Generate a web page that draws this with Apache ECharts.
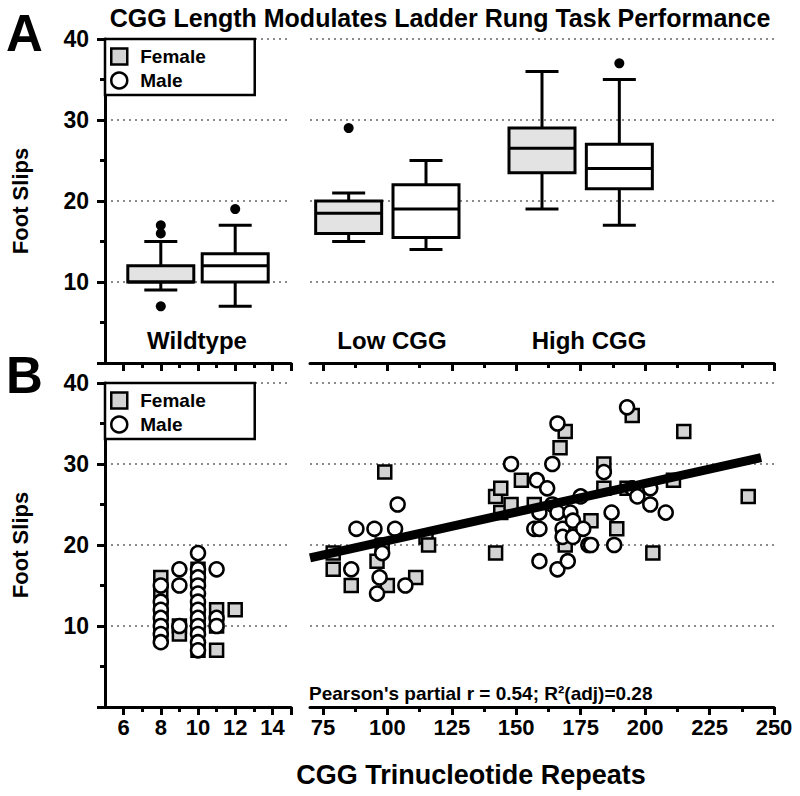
<!DOCTYPE html>
<html><head><meta charset="utf-8">
<script src="https://cdn.jsdelivr.net/npm/echarts@6/dist/echarts.min.js"></script>
<style>html,body{margin:0;padding:0;background:#fff}#c{width:800px;height:796px}</style>
</head><body><div id="c"></div>
<script>
// ---------- data ----------
const groups = ['Wildtype', 'Low CGG', 'High CGG'];
// box stats per group: [x, min, q1, median, q3, max]
const femaleBoxes = [[8, 9, 10, 10, 12, 15], [85, 15, 16, 18.5, 20, 21], [160, 19, 23.5, 26.5, 29, 36]];
const maleBoxes   = [[12, 7, 10, 12, 13.5, 17], [115, 14, 15.5, 19, 22, 25], [190, 17, 21.5, 24, 27, 35]];
const boxOutliers = [[8, 17], [8, 16], [8, 7], [12, 19], [85, 29], [190, 37]];

const femaleWT = [[8,16],[8,14],[8,12],[8,11],[8,9],[9,10],[9,9],[10,17],[10,16],[10,12],[10,10],[10,7],[11,12],[11,10],[11,7],[12,12]];
const maleWT = [[8,15],[8,13],[8,12],[8,11],[8,10],[8,9],[8,8],[9,17],[9,15],[9,10],[10,19],[10,17],[10,16],[10,15],[10,14],[10,13],[10,12],[10,11],[10,10],[10,9],[10,8],[10,7],[11,17],[11,11],[11,10]];
const femalePM = [[79,19],[79,17],[86,15],[96,18],[98,20],[99,29],[100,15],[111,16],[115,21],[116,20],
  [142,26],[142,19],[144,27],[144,24],[148,25],[152,28],[157,25],[167,32],[169,34],[169,20],[179,23],[184,30],[184,27],[189,22],[193,27],[195,36],[203,19],[211,28],[215,34],[240,26]];
const malePM = [[86,17],[88,22],[95,22],[97,16],[98,19],[103,22],[104,25],[96,14],[107,15],
  [148,30],[157,22],[158,28],[159,24],[159,22],[159,18],[162,27],[164,30],[164,25],[166,35],[166,24],[166,17],[168,22],[168,21],[170,18],[171,24],[172,23],[172,21],[175,26],[176,22],[178,20],[179,20],[184,29],[187,24],[188,20],[193,37],[195,27],[197,26],[202,27],[202,25],[208,24]];
const fitX = [70, 245];
const fitY = [18.4, 30.8];

const yTicks = [10, 20, 30, 40];
const leftMajor = [6, 8, 10, 12, 14, 15];
const leftLabels = [6, 8, 10, 12, 14];
const leftMinor = [7, 9, 11, 13];
const rightMajor = [75, 100, 125, 150, 175, 200, 225, 250];
const rightMinor = [87.5, 112.5, 137.5, 162.5, 187.5, 212.5, 237.5];

const titleText = 'CGG Length Modulates Ladder Rung Task Performance';
const statText = "Pearson's partial r = 0.54; R\u00B2(adj)=0.28";
const xName = 'CGG Trinucleotide Repeats';
const yName = 'Foot Slips';

// ---------- style ----------
const FONT = '"Liberation Sans", Arial, Helvetica, sans-serif';
const BOX_W = 66, CAP_W = 33, LW = 3;
const GL = {left: 105, width: 186}, GR = {left: 310, width: 464};
const GA = {top: 39, height: 324}, GB = {top: 383, height: 324};

function boxRender(fill) {
  return function (params, api) {
    const x = api.value(0);
    const pMin = api.coord([x, api.value(1)]), pQ1 = api.coord([x, api.value(2)]),
          pMed = api.coord([x, api.value(3)]), pQ3 = api.coord([x, api.value(4)]),
          pMax = api.coord([x, api.value(5)]);
    const cx = pMed[0], hw = BOX_W / 2, cw = CAP_W / 2;
    const ls = {stroke: '#000', lineWidth: LW};
    return {type: 'group', children: [
      {type: 'line', shape: {x1: cx, y1: pMin[1], x2: cx, y2: pQ1[1]}, style: ls},
      {type: 'line', shape: {x1: cx, y1: pQ3[1], x2: cx, y2: pMax[1]}, style: ls},
      {type: 'line', shape: {x1: cx - cw, y1: pMin[1], x2: cx + cw, y2: pMin[1]}, style: ls},
      {type: 'line', shape: {x1: cx - cw, y1: pMax[1], x2: cx + cw, y2: pMax[1]}, style: ls},
      {type: 'rect', shape: {x: cx - hw, y: pQ3[1], width: BOX_W, height: pQ1[1] - pQ3[1]}, style: {fill: fill, stroke: '#000', lineWidth: LW}},
      {type: 'line', shape: {x1: cx - hw, y1: pMed[1], x2: cx + hw, y2: pMed[1]}, style: ls}
    ]};
  };
}

function xAxesFor(gi, min, max, major, labels, minor, showLabels) {
  return [
    {type: 'value', gridIndex: gi, min: min, max: max, position: 'bottom',
     axisLine: {show: true, onZero: false, lineStyle: {color: '#000', width: LW}},
     axisTick: {show: true, customValues: major, length: 8, lineStyle: {color: '#000', width: LW}},
     axisLabel: {show: showLabels, customValues: labels, margin: 9, color: '#000', fontSize: 22, fontWeight: 'bold', fontFamily: FONT},
     splitLine: {show: false}},
    {type: 'value', gridIndex: gi, min: min, max: max, position: 'bottom',
     axisLine: {show: false, onZero: false},
     axisTick: {show: true, customValues: minor, length: 5, lineStyle: {color: '#000', width: LW}},
     axisLabel: {show: false}, splitLine: {show: false}}
  ];
}
const gridLine = {show: true, lineStyle: {type: [2, 4], color: '#666', width: 1.5}};
function yAxisFor(gi, main) {
  return {type: 'value', gridIndex: gi, min: 0, max: 40, interval: 10,
    axisLine: {show: main, onZero: false, lineStyle: {color: '#000', width: LW}},
    axisTick: {show: main, length: 8, lineStyle: {color: '#000', width: LW}},
    minorTick: {show: main, splitNumber: 2, length: 5, lineStyle: {color: '#000', width: LW}},
    axisLabel: {show: main, customValues: yTicks, margin: 16, color: '#000', fontSize: 23, fontWeight: 'bold', fontFamily: FONT},
    splitLine: gridLine,
    name: main ? yName : '', nameLocation: 'middle', nameGap: 74, nameRotate: 90,
    nameTextStyle: {color: '#000', fontSize: 22, fontWeight: 'bold', fontFamily: FONT}};
}

const grids = [
  Object.assign({}, GL, GA), Object.assign({}, GR, GA),
  Object.assign({}, GL, GB), Object.assign({}, GR, GB)
].map(g => Object.assign(g, {outerBoundsMode: 'none', containLabel: false}));

const xAxes = [].concat(
  xAxesFor(0, 5, 15, leftMajor, leftLabels, leftMinor, false),
  xAxesFor(1, 70, 250, rightMajor, rightMajor, rightMinor, false),
  xAxesFor(2, 5, 15, leftMajor, leftLabels, leftMinor, true),
  xAxesFor(3, 70, 250, rightMajor, rightMajor, rightMinor, true)
);
const yAxes = [yAxisFor(0, true), yAxisFor(1, false), yAxisFor(2, true), yAxisFor(3, false)];

const femaleStyle = {color: '#d3d3d3', borderColor: '#000', borderWidth: 2.5, opacity: 1};
const maleStyle = {color: '#fff', borderColor: '#000', borderWidth: 2.5, opacity: 1};
const SYM = 13;

const series = [];
// Panel A boxes
[[0, 0, v => v[0] < 50], [1, 2, v => v[0] >= 50]].forEach(([gi, xi, f]) => {
  series.push({type: 'custom', name: 'Female box', xAxisIndex: xi, yAxisIndex: gi, renderItem: boxRender('#e3e3e3'), data: femaleBoxes.filter(f), z: 3});
  series.push({type: 'custom', name: 'Male box', xAxisIndex: xi, yAxisIndex: gi, renderItem: boxRender('#fff'), data: maleBoxes.filter(f), z: 3});
  series.push({type: 'scatter', name: 'Outlier', xAxisIndex: xi, yAxisIndex: gi, data: boxOutliers.filter(f), symbol: 'circle', symbolSize: 10, itemStyle: {color: '#000', opacity: 1}, z: 4});
});
// Panel B scatter
series.push({type: 'scatter', name: 'Female', xAxisIndex: 4, yAxisIndex: 2, data: femaleWT, symbol: 'rect', symbolSize: SYM, itemStyle: femaleStyle, z: 3});
series.push({type: 'scatter', name: 'Male', xAxisIndex: 4, yAxisIndex: 2, data: maleWT, symbol: 'circle', symbolSize: SYM + 1, itemStyle: maleStyle, z: 4});
series.push({type: 'scatter', name: 'Female', xAxisIndex: 6, yAxisIndex: 3, data: femalePM, symbol: 'rect', symbolSize: SYM, itemStyle: femaleStyle, z: 3});
series.push({type: 'scatter', name: 'Male', xAxisIndex: 6, yAxisIndex: 3, data: malePM, symbol: 'circle', symbolSize: SYM + 1, itemStyle: maleStyle, z: 4});
series.push({type: 'line', name: 'Fit', xAxisIndex: 6, yAxisIndex: 3, data: fitX.map((x, i) => [x, fitY[i]]), symbol: 'none', lineStyle: {color: '#000', width: 9, cap: 'butt'}, z: 5, silent: true});

const legendBase = {
  left: 105, orient: 'vertical', selectedMode: false,
  data: [{name: 'Female', icon: 'path://M0 0H10V10H0Z'}, {name: 'Male', icon: 'circle'}],
  itemWidth: 32, itemHeight: 16, itemGap: 5, padding: [8, 49, 5, 5],
  borderColor: '#000', borderWidth: 2.5, backgroundColor: '#fff', symbolKeepAspect: true,
  itemStyle: {borderColor: '#000', borderWidth: 2.5, opacity: 1},
  textStyle: {color: '#000', fontSize: 19, fontWeight: 'bold', fontFamily: FONT}, z: 10
};

const txt = (x, y, text, size, align, extra) => ({type: 'text', x: x, y: y, z: 20,
  style: Object.assign({text: text, fill: '#000', fontSize: size, fontWeight: 'bold', fontFamily: FONT, textAlign: align, textVerticalAlign: 'middle'}, extra || {})});

const chart = echarts.init(document.getElementById('c'), null, {renderer: 'svg'});
chart.setOption({
  animation: false,
  backgroundColor: '#fff',
  grid: grids,
  xAxis: xAxes,
  yAxis: yAxes,
  legend: [Object.assign({top: 39}, legendBase), Object.assign({top: 383}, legendBase)],
  series: series,
  graphic: [
    txt(440, 18, titleText, 25, 'center'),
    txt(6, 33, 'A', 51, 'left'),
    txt(6, 375, 'B', 51, 'left'),
    txt(197, 340, groups[0], 24, 'center'),
    txt(392, 340, groups[1], 24, 'center'),
    txt(589, 340, groups[2], 24, 'center'),
    txt(309, 693, statText, 19, 'left'),
    txt(471, 775, xName, 27, 'center')
  ]
});
</script></body></html>
